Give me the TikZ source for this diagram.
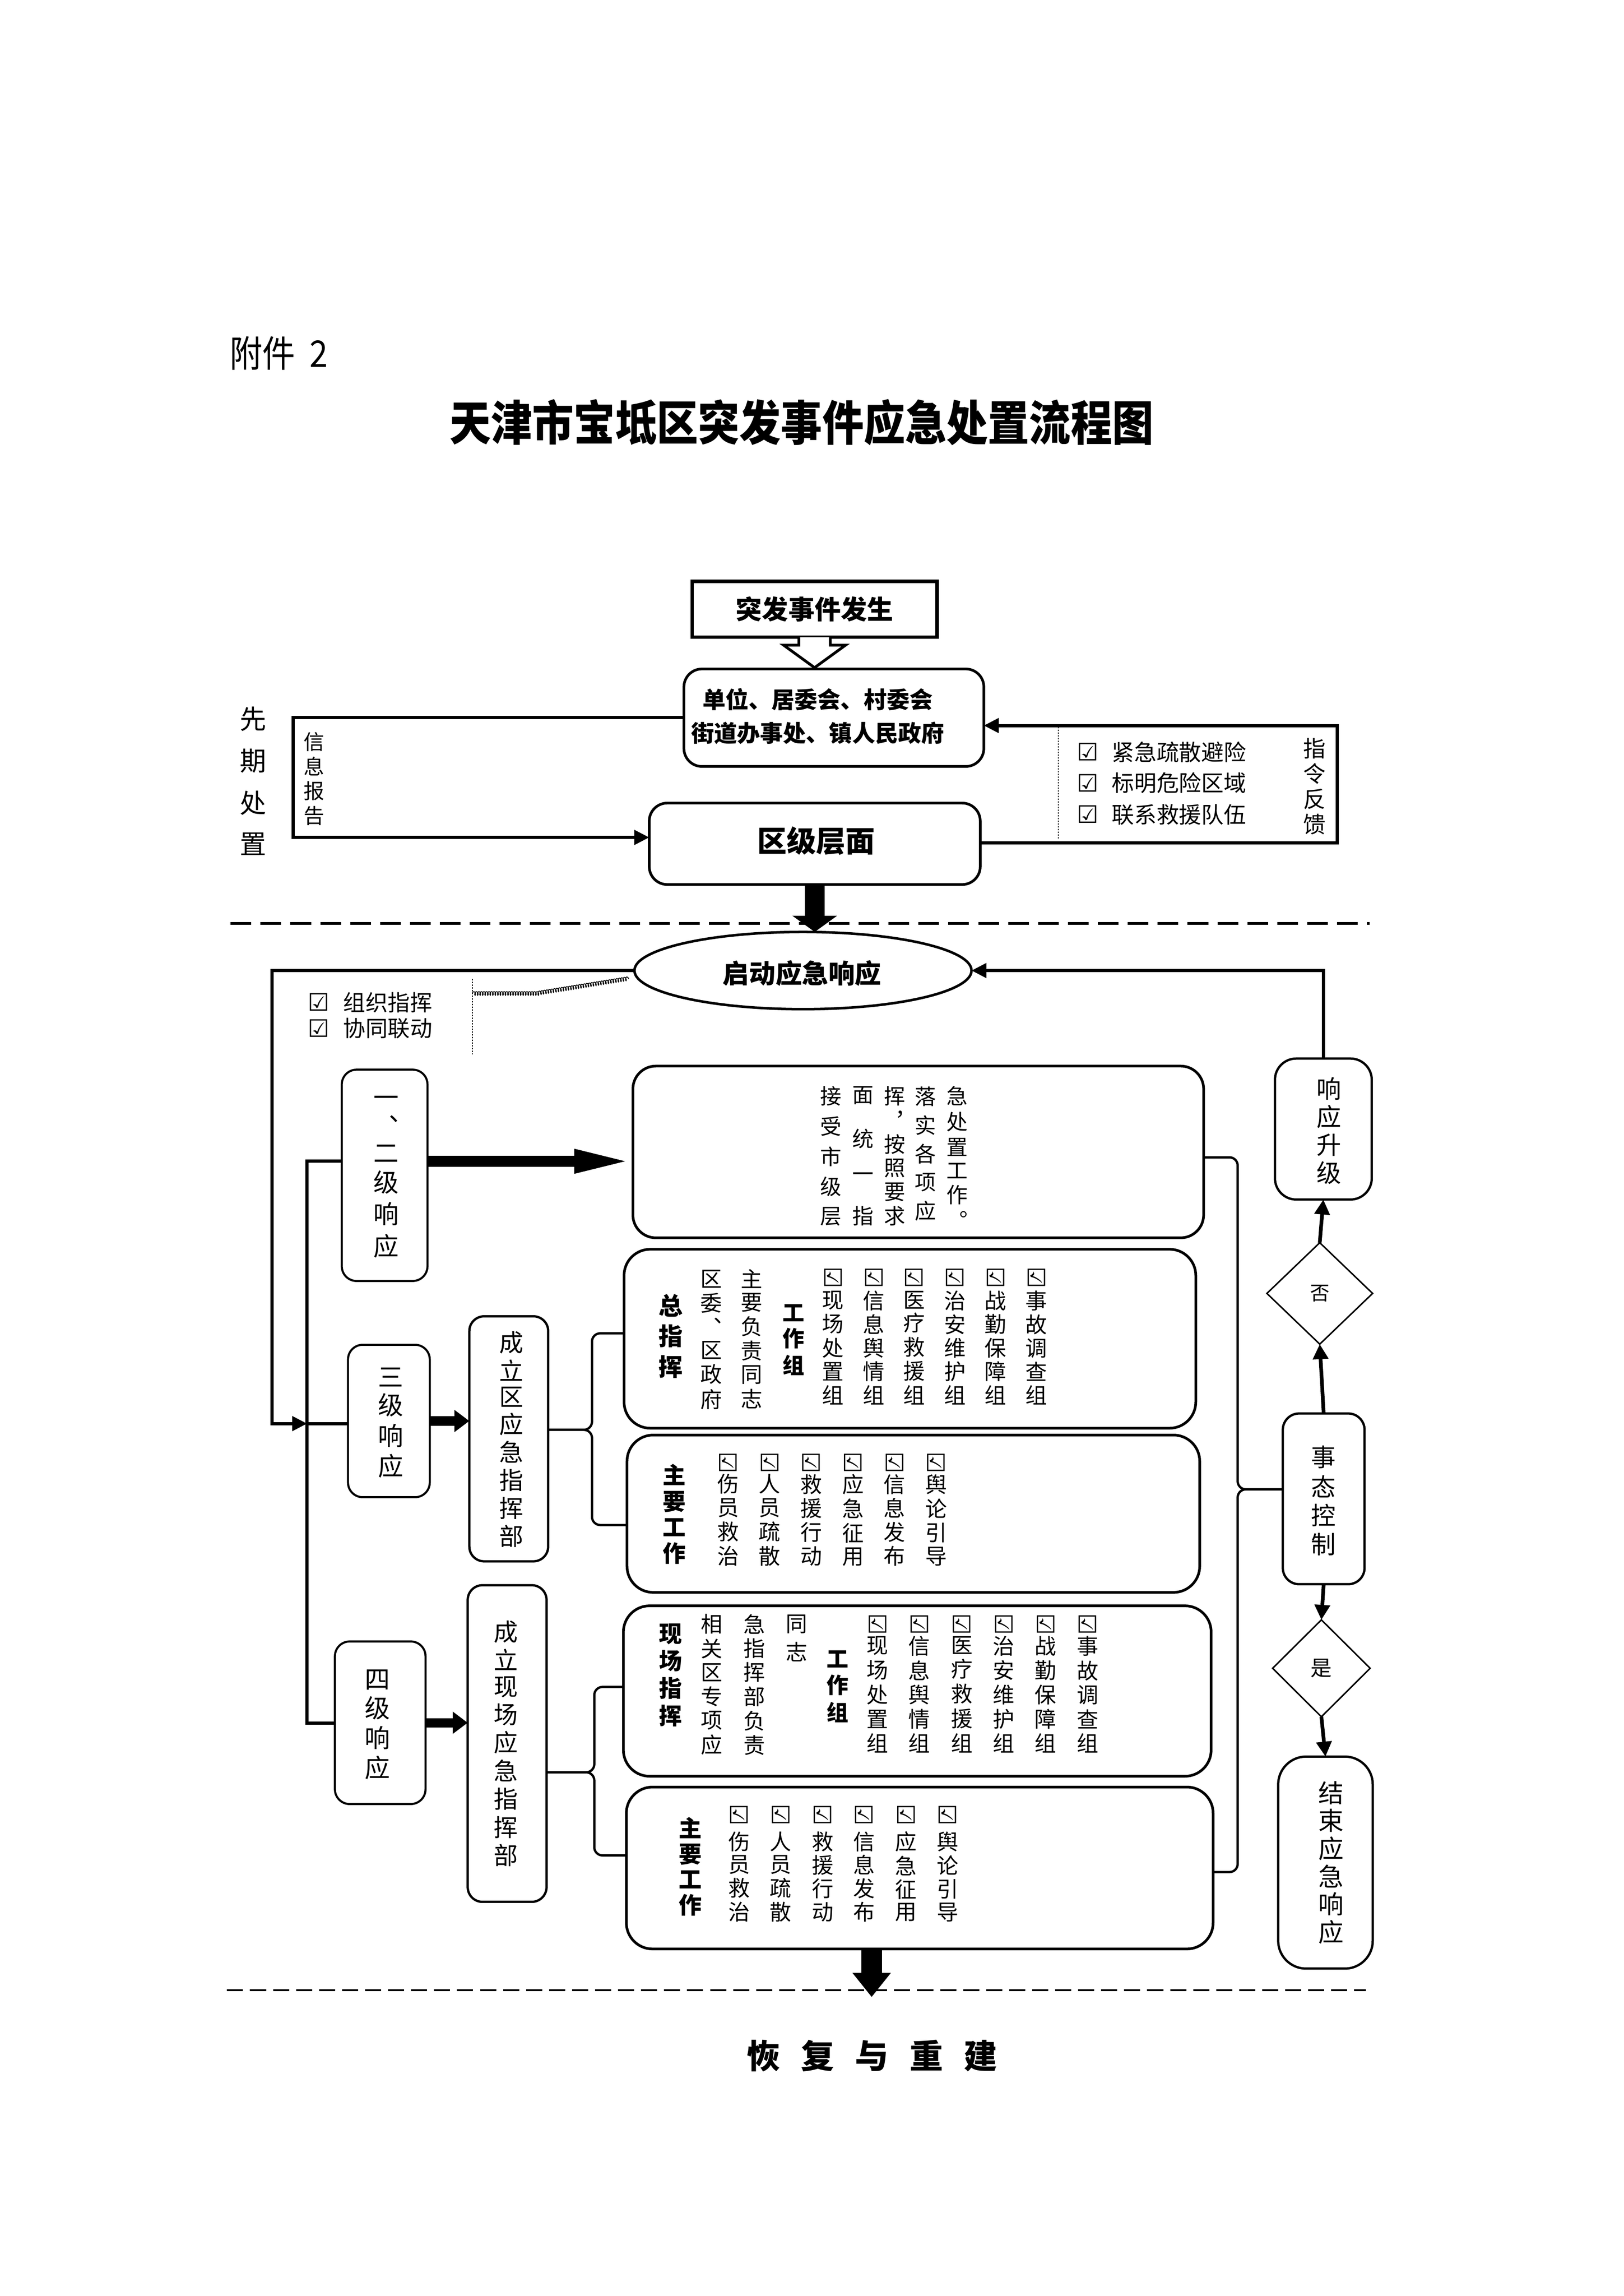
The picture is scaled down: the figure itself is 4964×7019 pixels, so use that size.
\documentclass[tikz,border=0pt]{standalone}
\usepackage{fontspec}
\setmainfont{Noto Sans CJK SC}
\newfontfamily\symf{DejaVu Sans}
\usetikzlibrary{arrows.meta,shapes.geometric,fit,calc,decorations.pathmorphing}
\newlength\pxu \setlength\pxu{0.01cm}
\newcommand\fs[1]{\fontsize{#1}{#1}\selectfont}
\newcommand\V{\par\vfill}
\newcommand\vcol[2]{\parbox[c][#1\pxu][s]{1.2em}{\offinterlineskip\centering #2\par}}
\newcommand\chk{{\symf ☑}}
\newcommand\gcol[6]{%
  \node[txt, font=\fs{21}, rotate=-90] (#1c) at (#2,#3) {\chk};
  \node[txt, font=\fs{18.8}] (#1t) at (#2,#4) {\vcol{#5}{#6}};}
\begin{document}
\begin{tikzpicture}[x=0.01cm,y=-0.01cm,
 txt/.style={inner sep=0pt, outer sep=0pt},
 box/.style={draw, line width=2.3pt, inner sep=0pt, outer sep=0pt},
 rbox/.style={box, rounded corners=0.55cm},
 conn/.style={line width=2.8pt},
 tipA/.style={-{Triangle[length=13pt,width=12.5pt]}},
 rarr/.style={line width=3.2pt, -{Triangle[length=13pt,width=13pt]}},
 brc/.style={line width=2pt, rounded corners=0.25cm},
 dotln/.style={line width=0.8pt, dash pattern=on 1.2pt off 1.2pt},
 dec/.style={diamond, draw, line width=1.3pt, inner sep=0pt, outer sep=0pt},
]
\fill[white] (0,0) rectangle (4964,7019);
\useasboundingbox (0,0) rectangle (4964,7019);

% ---------- title ----------
\node[txt, anchor=west, font=\fs{28.5}] (fj) at (702,1080) {\scalebox{1}[1.12]{附件\hspace{0.45cm}2}};
\node[txt, font=\bfseries\fs{36}] (title) at (2451,1292) {\scalebox{1}[1.15]{天津市宝坻区突发事件应急处置流程图}};

% ---------- top part ----------
\node[box, line width=3pt, fit={(2116,1777) (2865,1948)}] (tf) {};
\node[txt, font=\bfseries\fs{22.8}] (tft) at (tf.center) {突发事件发生};

\node[rbox, fit={(2091,2045) (3008,2343)}] (dw) {};
\node[txt, font=\bfseries\fontsize{20}{29}\selectfont, align=center] (dwt) at (2500,2190) {单位、居委会、村委会\\街道办事处、镇人民政府};

\coordinate (ha1) at ($(tf.south)+(-48,0)$);
\coordinate (ha2) at ($(tf.south)+(-48,24)$);
\coordinate (ha3) at ($(tf.south)+(-95,24)$);
\coordinate (ha4) at ($(tf.south |- dw.north)+(0,-4)$);
\coordinate (ha5) at ($(tf.south)+(95,24)$);
\coordinate (ha6) at ($(tf.south)+(48,24)$);
\coordinate (ha7) at ($(tf.south)+(48,0)$);
\draw[line width=2.4pt, fill=white, line join=miter] (ha1) -- (ha2) -- (ha3) -- (ha4) -- (ha5) -- (ha6) -- (ha7);

\node[rbox, fit={(1985,2455) (2997,2704)}] (qj) {};
\node[txt, font=\bfseries\fs{25.6}] (qjt) at (2495,2570) {区级层面};

\coordinate (lc0) at (897,2560);
\draw[conn, tipA] (dw.west) -| (lc0) -- (qj.west |- lc0);
\node[txt, font=\fs{23}] (xq) at (774,2388) {\vcol{450}{先\V 期\V 处\V 置}};
\node[txt, font=\fs{18}] (xx) at (960,2381) {\vcol{280}{信\V 息\V 报\V 告}};

\coordinate (rcb) at (4088,2576);
\coordinate (rct) at (4088,2218);
\draw[conn, tipA] (qj.east |- rcb) -- (rcb) -- (rct) -- (dw.east |- rct);
\coordinate (dl1) at (3236,2222);
\coordinate (dl2) at (3236,2563);
\draw[dotln] (dl1) -- (dl2);
\foreach \t/\y [count=\i] in {紧急疏散避险/2299, 标明危险区域/2394, 联系救援队伍/2490} {
  \node[txt, font=\fs{21}] (ck\i) at (3325,\y) {\chk};
  \node[txt, anchor=west, font=\fs{19.5}] (ct\i) at (3399,\y) {\t};
}
\node[txt, font=\fs{19.5}] (zl) at (4019,2404) {\vcol{290}{指\V 令\V 反\V 馈}};

% dashed separator 1
\coordinate (d1a) at (705,2823);
\coordinate (d1b) at (4188,2823);
\draw[line width=2.5pt, dash pattern=on 18pt off 8pt] (d1a) -- (d1b);

% ---------- response ----------
\node[ellipse, draw, line width=2.2pt, minimum width=10.3cm, minimum height=2.36cm, inner sep=0pt, outer sep=0pt] (qd) at (2455,2967) {};
\node[txt, font=\bfseries\fs{23}] (qdt) at (2452,2975) {启动应急响应};
\draw[line width=17pt, -{Triangle[length=14pt,width=38pt]}] (qj.south) -- (qj.south |- qd.north);

\coordinate (lc1) at (832,4352);
\coordinate (tk3) at (939,4352);
\draw[conn, tipA] (qd.west) -| (lc1) -- (tk3);

\node[txt, font=\fs{21}] (k1) at (974,3064) {\chk};
\node[txt, anchor=west, font=\fs{19.3}] (k1t) at (1050,3064) {组织指挥};
\node[txt, font=\fs{21}] (k2) at (974,3144) {\chk};
\node[txt, anchor=west, font=\fs{19.3}] (k2t) at (1050,3144) {协同联动};
\coordinate (dl3) at (1444,2993);
\coordinate (dl4) at (1444,3223);
\draw[dotln] (dl3) -- (dl4);
\coordinate (cl1) at (1444,3037);
\coordinate (cl2) at (1638,3037);
\coordinate (cl3) at (1923,2991);
\draw[line width=0.7pt, decorate, decoration={coil, amplitude=1.6pt, segment length=2.2pt}] (cl1) -- (cl2) -- (cl3);

% level boxes
\node[rbox, line width=1.8pt, rounded corners=0.45cm, fit={(1045,3270) (1307,3916)}] (b12) {};
\node[txt, font=\fs{22}] (b12t) at (1180,3598) {\vcol{487}{一\V ︑\V 二\V 级\V 响\V 应}};
\node[rbox, line width=1.8pt, rounded corners=0.45cm, fit={(1064,4111) (1314,4577)}] (b3) {};
\node[txt, font=\fs{22}] (b3t) at (1194,4349) {\vcol{330}{三\V 级\V 响\V 应}};
\node[rbox, line width=1.8pt, rounded corners=0.45cm, fit={(1024,5018) (1301,5515)}] (b4) {};
\node[txt, font=\fs{22}] (b4t) at (1154,5272) {\vcol{330}{四\V 级\V 响\V 应}};

\coordinate (tkt) at (939,3550);
\coordinate (tkb) at (939,5268);
\draw[conn] (b12.west |- tkt) -- (tkt) -- (tkb) -- (b4.west |- tkb);
\draw[conn] (tk3) -- (b3.west |- tk3);

% big box (level 1,2)
\node[rbox, rounded corners=0.7cm, fit={(1935,3259) (3680,3784)}] (big) {};
\draw[line width=9.4pt, -{Triangle[length=51pt,width=18.5pt]}] (b12.east |- tkt) -- (big.west |- tkt);
\node[txt, font=\fs{18.5}] (bc5) at (2541,3534) {\vcol{420}{接\V 受\V 市\V 级\V 层}};
\node[txt, font=\fs{18.5}] (bc4) at (2638,3534) {\vcol{420}{面\V 统\V 一\V 指}};
\node[txt, font=\fs{18.5}] (bc3) at (2735,3534) {\vcol{420}{挥\V ︐\V 按\V 照\V 要\V 求}};
\node[txt, font=\fs{18.5}] (bc2) at (2829,3527) {\vcol{405}{落\V 实\V 各\V 项\V 应}};
\node[txt, font=\fs{18.5}] (bc1) at (2926,3538) {\vcol{435}{急\V 处\V 置\V 工\V 作\V ︒}};

% level 3
\node[rbox, line width=2pt, rounded corners=0.45cm, fit={(1435,4024) (1676,4773)}] (xc3) {};
\node[txt, font=\fs{21}] (xc3t) at (1564,4400) {\vcol{655}{成\V 立\V 区\V 应\V 急\V 指\V 挥\V 部}};
\draw[line width=8pt, -{Triangle[length=13pt,width=18.5pt]}] (b3.east) -- (b3.east -| xc3.west);

\node[rbox, rounded corners=0.8cm, fit={(1908,3819) (3656,4366)}] (zzh) {};
\node[txt, font=\bfseries\fs{21}] (zzh1) at (2050,4085) {\vcol{250}{总\V 指\V 挥}};
\node[txt, font=\fs{18.8}] (zzh2) at (2175,4095) {\vcol{421}{区\V 委\V ︑\V 区\V 政\V 府}};
\node[txt, font=\fs{18.8}] (zzh3) at (2298,4093) {\vcol{421}{主\V 要\V 负\V 责\V 同\V 志}};
\node[txt, font=\bfseries\fs{19}] (zzh4) at (2426,4096) {\vcol{212}{工\V 作\V 组}};
\gcol{ga1}{2547}{3906}{4120}{344}{现\V 场\V 处\V 置\V 组}
\gcol{ga2}{2672}{3906}{4120}{344}{信\V 息\V 舆\V 情\V 组}
\gcol{ga3}{2795}{3906}{4120}{344}{医\V 疗\V 救\V 援\V 组}
\gcol{ga4}{2920}{3906}{4120}{344}{治\V 安\V 维\V 护\V 组}
\gcol{ga5}{3044}{3906}{4120}{344}{战\V 勤\V 保\V 障\V 组}
\gcol{ga6}{3169}{3906}{4120}{344}{事\V 故\V 调\V 查\V 组}

\node[rbox, rounded corners=0.8cm, fit={(1917,4387) (3668,4868)}] (zyA) {};
\node[txt, font=\bfseries\fs{20}] (zyA1) at (2062,4629) {\vcol{300}{主\V 要\V 工\V 作}};
\gcol{gb1}{2226}{4471}{4647}{275}{伤\V 员\V 救\V 治}
\gcol{gb2}{2353}{4471}{4647}{275}{人\V 员\V 疏\V 散}
\gcol{gb3}{2480}{4471}{4647}{275}{救\V 援\V 行\V 动}
\gcol{gb4}{2608}{4471}{4647}{275}{应\V 急\V 征\V 用}
\gcol{gb5}{2735}{4471}{4647}{275}{信\V 息\V 发\V 布}
\gcol{gb6}{2862}{4471}{4647}{275}{舆\V 论\V 引\V 导}

\coordinate (bA) at (1810,4371);
\coordinate (bAt) at (1810,4076);
\coordinate (bAb) at (1810,4662);
\draw[brc] (xc3.east |- bA) -- (bA) -- (bAt) -- (zzh.west |- bAt);
\draw[brc] (xc3.east |- bA) -- (bA) -- (bAb) -- (zyA.west |- bAb);

% level 4
\node[rbox, line width=2pt, rounded corners=0.45cm, fit={(1430,4846) (1671,5814)}] (xc4) {};
\node[txt, font=\fs{21}] (xc4t) at (1547,5330) {\vcol{746}{成\V 立\V 现\V 场\V 应\V 急\V 指\V 挥\V 部}};
\draw[line width=8pt, -{Triangle[length=13pt,width=18.5pt]}] (b4.east) -- (b4.east -| xc4.west);

\node[rbox, rounded corners=0.8cm, fit={(1906,4909) (3703,5430)}] (xch) {};
\node[txt, font=\bfseries\fs{20}] (xch1) at (2051,5121) {\vcol{308}{现\V 场\V 指\V 挥}};
\node[txt, font=\fs{18.8}] (xch2) at (2176,5150) {\vcol{425}{相\V 关\V 区\V 专\V 项\V 应}};
\node[txt, font=\fs{18.8}] (xch3) at (2306,5150) {\vcol{425}{急\V 指\V 挥\V 部\V 负\V 责}};
\node[txt, font=\fs{18.8}] (xch4) at (2435,5008) {\vcol{140}{同\V 志}};
\node[txt, font=\bfseries\fs{19}] (xch5) at (2561,5156) {\vcol{215}{工\V 作\V 组}};
\gcol{gc1}{2683}{4965}{5180}{352}{现\V 场\V 处\V 置\V 组}
\gcol{gc2}{2811}{4965}{5180}{352}{信\V 息\V 舆\V 情\V 组}
\gcol{gc3}{2941}{4965}{5180}{352}{医\V 疗\V 救\V 援\V 组}
\gcol{gc4}{3069}{4965}{5180}{352}{治\V 安\V 维\V 护\V 组}
\gcol{gc5}{3197}{4965}{5180}{352}{战\V 勤\V 保\V 障\V 组}
\gcol{gc6}{3325}{4965}{5180}{352}{事\V 故\V 调\V 查\V 组}

\node[rbox, rounded corners=0.8cm, fit={(1915,5463) (3709,5958)}] (zyB) {};
\node[txt, font=\bfseries\fs{20}] (zyB1) at (2111,5706) {\vcol{295}{主\V 要\V 工\V 作}};
\gcol{gd1}{2260}{5548}{5737}{270}{伤\V 员\V 救\V 治}
\gcol{gd2}{2387}{5548}{5737}{270}{人\V 员\V 疏\V 散}
\gcol{gd3}{2515}{5548}{5737}{270}{救\V 援\V 行\V 动}
\gcol{gd4}{2642}{5548}{5737}{270}{信\V 息\V 发\V 布}
\gcol{gd5}{2770}{5548}{5737}{270}{应\V 急\V 征\V 用}
\gcol{gd6}{2897}{5548}{5737}{270}{舆\V 论\V 引\V 导}

\coordinate (bB) at (1817,5418);
\coordinate (bBt) at (1817,5157);
\coordinate (bBb) at (1817,5672);
\draw[brc] (xc4.east |- bB) -- (bB) -- (bBt) -- (xch.west |- bBt);
\draw[brc] (xc4.east |- bB) -- (bB) -- (bBb) -- (zyB.west |- bBb);

% ---------- right column ----------
\node[rbox, line width=2pt, rounded corners=0.65cm, fit={(3898,3236) (4194,3667)}] (sj) {};
\node[txt, font=\fs{21.5}] (sjt) at (4063,3457) {\vcol{320}{响\V 应\V 升\V 级}};
\node[dec, minimum width=3.23cm, minimum height=3.1cm] (fou) at (4035,3954) {};
\node[txt, font=\fs{17}] (fout) at (4035,3954) {否};
\node[rbox, line width=2pt, rounded corners=0.5cm, fit={(3922,4321) (4172,4843)}] (sk) {};
\node[txt, font=\fs{21.5}] (skt) at (4046,4588) {\vcol{330}{事\V 态\V 控\V 制}};
\node[dec, minimum width=2.98cm, minimum height=2.96cm] (shi) at (4040,5100) {};
\node[txt, font=\fs{18.5}] (shit) at (4040,5100) {是};
\node[rbox, line width=2pt, rounded corners=0.85cm, fit={(3908,5370) (4197,6018)}] (js) {};
\node[txt, font=\fs{22}] (jst) at (4069,5694) {\vcol{490}{结\V 束\V 应\V 急\V 响\V 应}};

\draw[rarr] (sk.north) -- (fou.south);
\draw[rarr] (fou.north) -- (sj.south);
\draw[rarr] (sk.south) -- (shi.north);
\draw[rarr] (shi.south) -- (js.north);
\draw[conn, tipA] (sj.north) |- (qd.east);

\coordinate (rbt) at (3784,3538);
\coordinate (rbm) at (3784,4553);
\coordinate (rbb) at (3784,5723);
\draw[brc] (big.east |- rbt) -- (rbt) -- (rbm) -- (sk.west |- rbm);
\draw[brc] (zyB.east |- rbb) -- (rbb) -- (rbm) -- (sk.west |- rbm);

% ---------- bottom ----------
\coordinate (botar) at (2665,6105);
\draw[line width=18pt, -{Triangle[length=21pt,width=32pt]}] (zyB.south -| botar) -- (botar);
\coordinate (d2a) at (694,6084);
\coordinate (d2b) at (4176,6084);
\draw[line width=1.7pt, dash pattern=on 14pt off 6pt] (d2a) -- (d2b);
\node[txt, font=\bfseries\fs{29}] (hf) at (2666,6285) {恢\hspace{0.64cm}复\hspace{0.64cm}与\hspace{0.64cm}重\hspace{0.64cm}建};
\end{tikzpicture}
\end{document}
